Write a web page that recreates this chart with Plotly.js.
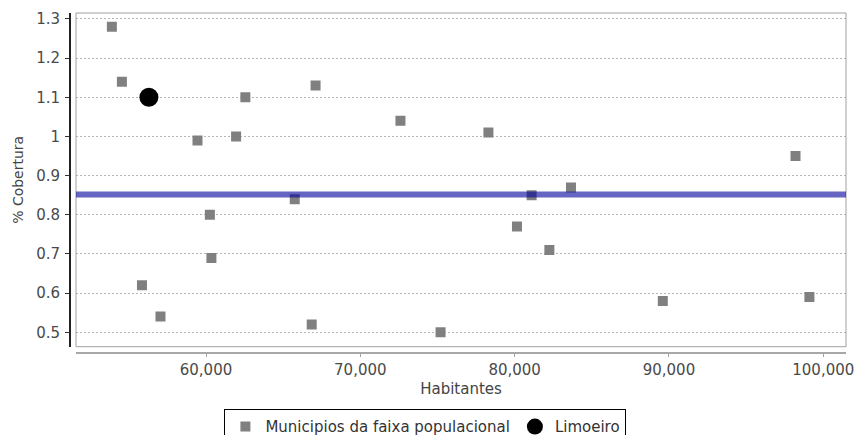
<!DOCTYPE html>
<html>
<head>
<meta charset="utf-8">
<script src="https://cdn.plot.ly/plotly-3.0.1.min.js"></script>
<style>html,body{margin:0;padding:0;background:#fff;}#chart{width:855px;height:435px;}</style>
</head>
<body>
<div id="chart"></div>
<script>
// Municípios da faixa populacional
const habitantes = [53900, 54550, 62550, 59450, 61950, 60250, 60350, 55850, 57050, 65750, 67100, 72600, 78300, 83650, 81100, 98200, 80150, 82250, 66850, 75200, 89600, 99100];
const cobertura  = [1.28, 1.14, 1.10, 0.99, 1.00, 0.80, 0.69, 0.62, 0.54, 0.84, 1.13, 1.04, 1.01, 0.87, 0.85, 0.95, 0.77, 0.71, 0.52, 0.50, 0.58, 0.59];
// Limoeiro
const limoeiroHab = [56300];
const limoeiroCob = [1.10];
// Reference line (média da faixa)
const mediaFaixa = [0.852];

const seriesNames = ['Municipios da faixa populacional', 'Limoeiro'];
const xTitle = 'Habitantes';
const yTitle = '% Cobertura';

const FONT = 'DejaVu Sans, Verdana, sans-serif';

const traces = [
  {
    type: 'scatter', mode: 'markers', name: seriesNames[0],
    x: habitantes, y: cobertura,
    marker: {symbol: 'square', size: 10, color: '#808080', line: {width: 0}}
  },
  {
    type: 'scatter', mode: 'markers', name: seriesNames[1],
    x: limoeiroHab, y: limoeiroCob,
    marker: {symbol: 'circle', size: 19, color: '#000000', line: {width: 0}}
  }
];

const W = 855, H = 435;
const mL = 70, mR = 9, mT = 13, mB = 83;
const pw = W - mL - mR, ph = H - mT - mB;

const layout = {
  width: W, height: H,
  margin: {l: mL, r: mR, t: mT, b: mB, pad: 0, autoexpand: false},
  paper_bgcolor: '#ffffff', plot_bgcolor: '#ffffff',
  showlegend: true,
  font: {family: FONT, size: 15, color: '#444'},
  xaxis: {
    domain: [6 / pw, 1],
    anchor: 'free', position: 0,
    range: [51576, 101471],
    tick0: 0, dtick: 10000, tickformat: ',d',
    showgrid: false, zeroline: false,
    showline: true, linecolor: '#a8a8a8', linewidth: 1.5,
    ticks: 'outside', ticklen: 3, tickcolor: '#a0a0a0', tickwidth: 1,
    tickfont: {family: FONT, size: 15, color: '#4a4a4a'},
    title: {text: xTitle, font: {family: FONT, size: 15, color: '#444'}, standoff: 6},
    automargin: false
  },
  yaxis: {
    domain: [5.3 / ph, 1],
    anchor: 'free', position: 0,
    range: [0.4632, 1.3153],
    tick0: 0, dtick: 0.1,
    showgrid: true, gridcolor: '#b4b4b4', gridwidth: 1, griddash: '2px,2px',
    zeroline: false,
    showline: true, linecolor: '#222', linewidth: 2,
    ticks: 'outside', ticklen: 4, tickcolor: '#333', tickwidth: 1,
    tickfont: {family: FONT, size: 15, color: '#4a4a4a'},
    ticklabelstandoff: 2,
    title: {text: yTitle, font: {family: FONT, size: 14, color: '#444'}, standoff: 8},
    automargin: false
  },
  shapes: [
    {type: 'rect', xref: 'x domain', yref: 'y domain', x0: 0, x1: 1, y0: 0, y1: 1,
     line: {color: '#a0a0a0', width: 1}, fillcolor: 'rgba(0,0,0,0)', layer: 'above'},
    {type: 'line', xref: 'x domain', yref: 'y', x0: 0, x1: 1, y0: mediaFaixa[0], y1: mediaFaixa[0],
     line: {color: 'rgba(0,0,153,0.6)', width: 6}, layer: 'above'}
  ],
  legend: {
    orientation: 'h',
    x: 0.458, xanchor: 'center',
    y: -0.169, yanchor: 'top',
    bordercolor: '#000', borderwidth: 1, bgcolor: '#fff',
    font: {family: FONT, size: 15, color: '#333'},
    itemwidth: 30, tracegroupgap: 0
  }
};

Plotly.newPlot('chart', traces, layout, {displayModeBar: false, staticPlot: true});
</script>
</body>
</html>
